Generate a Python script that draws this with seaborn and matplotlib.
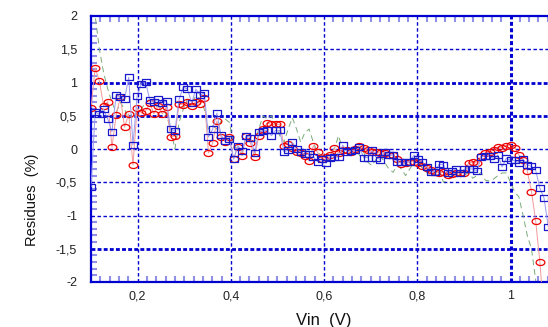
import numpy as np
import pandas as pd
import matplotlib
matplotlib.use("Agg")
import matplotlib.pyplot as plt
import matplotlib.path as mpath
from matplotlib.transforms import Affine2D
from matplotlib.ticker import MultipleLocator, FuncFormatter
import seaborn as sns

# ---- data ----
vin_step = 0.009
vin_start = 0.100

red_vals = [0.62, 1.22, 1.02, 0.65, 0.71, 0.03, 0.51, 0.78, 0.33, 0.53,
            -0.24, 0.62, 0.54, 0.57, 0.69, 0.53, 0.65, 0.53, 0.63, 0.18,
            0.20, 0.68, 0.66, 0.71, 0.65, 0.71, 0.68, 0.77, -0.06, 0.09,
            0.42, 0.18, 0.11, 0.18, -0.15, 0.03, -0.10, 0.20, 0.09, -0.12,
            0.20, 0.30, 0.39, 0.37, 0.37, 0.37, 0.05, 0.08, 0.02, -0.05,
            -0.06, -0.10, -0.18, 0.05, -0.05, -0.15, -0.12, -0.09, 0.01, -0.06,
            -0.01, -0.01, -0.04, 0.00, 0.05, 0.01, -0.02, -0.04, -0.05, -0.06,
            -0.06, -0.09, -0.09, -0.15, -0.22, -0.21, -0.19, -0.19, -0.21, -0.25,
            -0.29, -0.31, -0.35, -0.36, -0.35, -0.39, -0.37, -0.36, -0.36, -0.36,
            -0.21, -0.20, -0.21, -0.10, -0.06, -0.04, -0.02, 0.03, 0.02, 0.05,
            0.06, 0.02, -0.09, -0.17, -0.33, -0.64, -1.08, -1.70, -2.50]

blue_vals = [-0.57, 0.56, 0.52, 0.60, 0.45, 0.26, 0.81, 0.78, 0.75, 1.08,
             0.06, 0.80, 0.98, 1.01, 0.74, 0.71, 0.75, 0.69, 0.72, 0.30,
             0.27, 0.75, 0.93, 0.90, 0.69, 0.90, 0.81, 0.84, 0.18, 0.30,
             0.54, 0.21, 0.12, 0.15, -0.15, 0.05, -0.03, 0.20, 0.17, -0.06,
             0.26, 0.27, 0.28, 0.20, 0.28, 0.28, -0.04, -0.02, 0.10, 0.00,
             -0.05, -0.08, -0.08, -0.12, -0.19, -0.15, -0.21, -0.13, -0.12, -0.12,
             0.06, -0.04, -0.03, -0.02, 0.03, -0.13, -0.13, -0.02, -0.13, -0.16,
             -0.04, -0.09, -0.09, -0.20, -0.20, -0.20, -0.19, -0.09, -0.15, -0.19,
             -0.27, -0.34, -0.34, -0.23, -0.24, -0.36, -0.33, -0.30, -0.36, -0.30,
             -0.30, -0.30, -0.33, -0.12, -0.10, -0.10, -0.15, -0.09, -0.27, -0.14,
             -0.17, -0.17, -0.21, -0.15, -0.24, -0.26, -0.32, -0.59, -0.74, -1.17]

green_vals = [2.60, 2.00, 1.50, 1.15, 0.90, 0.70, 0.55, 0.70, 0.60, 0.45,
              0.55, 0.50, 0.60, 0.70, 0.75, 0.70, 0.60, 0.65, 0.50, 0.30,
              0.00, 0.40, 0.60, 0.75, 0.70, 0.80, 0.75, 0.60, 0.30, 0.35,
              0.30, 0.42, 0.45, 0.40, 0.05, 0.00, -0.05, 0.10, 0.15, 0.10,
              0.30, 0.50, 0.45, 0.50, 0.35, 0.20, 0.10, 0.30, 0.47, 0.30,
              0.10, 0.25, 0.30, 0.10, -0.05, -0.10, -0.15, -0.05, 0.00, 0.20,
              0.00, -0.10, -0.05, 0.05, -0.10, -0.05, -0.20, -0.25, -0.15, -0.10,
              -0.20, -0.30, -0.35, -0.25, -0.30, -0.40, -0.30, -0.20, -0.15, -0.30,
              -0.35, -0.40, -0.38, -0.30, -0.50, -0.47, -0.40, -0.42, -0.38, -0.40,
              -0.35, -0.44, -0.40, -0.35, -0.47, -0.48, -0.45, -0.40, -0.36, -0.36,
              -0.50, -0.65, -0.72, -1.00, -1.30, -1.50, -1.97, -2.40]

x_ticks = [0.2, 0.4, 0.6, 0.8, 1.0]
y_ticks = [-2, -1.5, -1, -0.5, 0, 0.5, 1, 1.5, 2]

def vin_axis(n):
    return np.round(vin_start + vin_step * np.arange(n), 4)

red_df = pd.DataFrame({"Vin": vin_axis(len(red_vals)), "res": red_vals})
blue_df = pd.DataFrame({"Vin": vin_axis(len(blue_vals)), "res": blue_vals})
green_df = pd.DataFrame({"Vin": vin_axis(len(green_vals)), "res": green_vals})

# ---- style ----
sns.set_style("white")
plt.rcParams["font.family"] = ["Liberation Sans", "DejaVu Sans"]

fig = plt.figure(figsize=(5.48, 3.27), dpi=100)
ax = fig.add_axes([91 / 548, 1 - 282 / 327, 1 - 91 / 548 + 0.002, (282 - 16) / 327])

ellipse = mpath.Path.unit_circle().transformed(Affine2D().scale(1.45, 1.0))
rect = mpath.Path.unit_rectangle().transformed(Affine2D().translate(-0.5, -0.5).scale(1.25, 1.0))

BLUE = "#0000d0"

sns.lineplot(data=green_df, x="Vin", y="res", ax=ax, color="#7aab7a", lw=0.7,
             linestyle=(0, (6, 4)), sort=False, zorder=2)
sns.lineplot(data=red_df, x="Vin", y="res", ax=ax, color="#f29a9a", lw=0.7,
             marker=ellipse, markersize=6.3, mfc="none", mec="#ee0000", mew=0.9,
             sort=False, zorder=3)
sns.lineplot(data=blue_df, x="Vin", y="res", ax=ax, color="#9a9af2", lw=0.7,
             marker=rect, markersize=6.0, mfc="none", mec="#1a1acc", mew=0.9,
             sort=False, zorder=4)

ax.set_xlim(0.1, 0.1 + (548 - 91) / 465)
ax.set_ylim(-2, 2)

# grid lines
thick_y = {1.0, 0.5, -1.5}
for yv in y_ticks:
    if yv in (2, -2):
        continue
    if yv in thick_y:
        ax.axhline(yv, color=BLUE, lw=2.0, ls=(0, (1.4, 0.8)), zorder=1)
    else:
        ax.axhline(yv, color=BLUE, lw=1.0, ls=(0, (2.5, 1.8)), zorder=1)
for xv in x_ticks:
    if xv == 1.0:
        ax.axvline(xv, color=BLUE, lw=2.2, ls=(0, (1.3, 0.8)), zorder=1)
    else:
        ax.axvline(xv, color=BLUE, lw=1.0, ls=(0, (2.5, 1.8)), zorder=1)

ax.set_xticks(x_ticks)
ax.set_yticks(y_ticks)
fmt = FuncFormatter(lambda v, p: ("%g" % v).replace(".", ","))
ax.xaxis.set_major_formatter(fmt)
ax.yaxis.set_major_formatter(fmt)
ax.xaxis.set_minor_locator(MultipleLocator(0.02))
ax.yaxis.set_minor_locator(MultipleLocator(0.1))
ax.tick_params(axis="both", which="major", length=0, labelsize=9, colors="#222222")
ax.tick_params(axis="x", which="major", pad=6)
ax.tick_params(axis="y", which="major", pad=10)
ax.tick_params(axis="both", which="minor", direction="in", length=4, width=1.5,
               color="#9090e8", top=True, bottom=True, left=True, right=False)

for side in ("left", "top", "bottom"):
    ax.spines[side].set_color(BLUE)
    ax.spines[side].set_linewidth(1.6)
    ax.spines[side].set_visible(True)
ax.spines["right"].set_visible(False)

ax.set_xlabel("Vin  (V)", fontsize=12, color="#111111")
ax.set_ylabel("Residues  (%)", fontsize=10.5, color="#111111")
ax.xaxis.set_label_coords((323 - 91) / (548 - 91), -0.115)
ax.yaxis.set_label_coords(-(91 - 39) / (548 - 91), (282 - 200) / 266)

fig.savefig("out.png", dpi=100)
